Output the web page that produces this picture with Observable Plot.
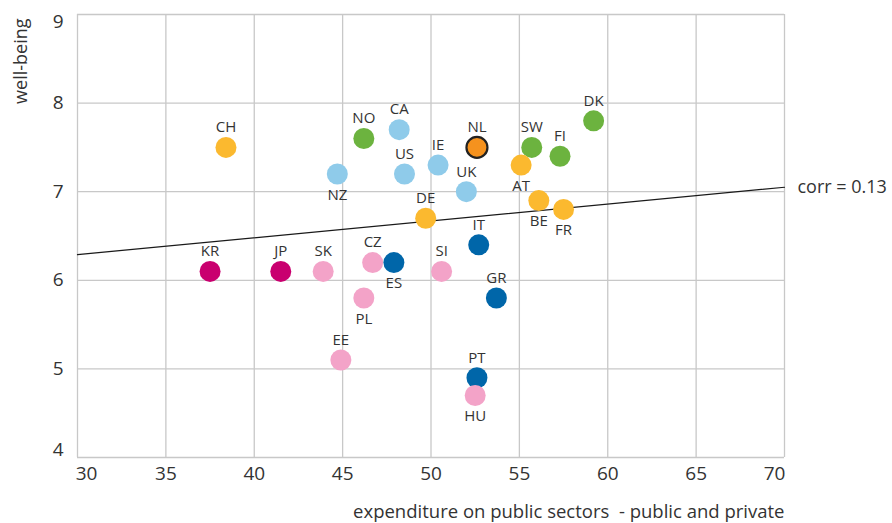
<!DOCTYPE html>
<html>
<head>
<meta charset="utf-8">
<script src="https://cdn.jsdelivr.net/npm/d3@7"></script>
<script src="https://cdn.jsdelivr.net/npm/@observablehq/plot@0.6"></script>
<style>
  html, body { margin: 0; padding: 0; background: #fff; }
</style>
</head>
<body>
<div id="chart"></div>
<script>
// Data
const countries   = ["CH","NO","CA","US","NZ","IE","NL","UK","SW","FI","DK","AT","BE","FR","DE","IT","CZ","ES","SI","SK","KR","JP","PL","GR","EE","PT","HU"];
const expenditure = [38.4,46.2,48.2,48.5,44.7,50.4,52.6,52.0,55.7,57.3,59.2,55.1,56.1,57.5,49.7,52.7,46.7,47.9,50.6,43.9,37.5,41.5,46.2,53.7,44.9,52.6,52.5];
const wellbeing   = [7.5,7.6,7.7,7.2,7.2,7.3,7.5,7.0,7.5,7.4,7.8,7.3,6.9,6.8,6.7,6.4,6.2,6.2,6.1,6.1,6.1,6.1,5.8,5.8,5.1,4.9,4.7];
const groups      = ["continental","nordic","anglo","anglo","anglo","anglo","nl","anglo","nordic","nordic","nordic","continental","continental","continental","continental","southern","eastern","southern","eastern","eastern","asian","asian","eastern","southern","eastern","southern","eastern"];
const labelsBelow = ["NZ","AT","BE","FR","ES","PL","HU"];

const groupNames  = ["continental","nordic","anglo","nl","southern","eastern","asian"];
const groupColors = ["#fbb92f","#6cb33f","#8fcbea","#f5921e","#0066a9","#f3a3c8","#c9006f"];

const xTicks = [30,35,40,45,50,55,60,65,70];
const yTicks = [4,5,6,7,8,9];

// trend line
const trendX = [30,70];
const trendY = [6.29,7.05];
const corrLabel = "corr = 0.13";

const xTitle = "expenditure on public sectors  - public and private";
const yTitle = "well-being";

const data = countries.map((c, i) => ({
  country: c, x: expenditure[i], y: wellbeing[i], group: groups[i],
  below: labelsBelow.includes(c)
}));
const trend = trendX.map((x, i) => ({x, y: trendY[i]}));

const font = "'Open Sans', 'Noto Sans', sans-serif";
const xMin = xTicks[0], xMax = xTicks[xTicks.length - 1];
const yMin = yTicks[0], yMax = yTicks[yTicks.length - 1];
const xInner = xTicks.filter(t => t !== xMin && t !== xMax);
const yInner = yTicks.filter(t => t !== yMin && t !== yMax);

const axX = {tickSize: 0, tickPadding: 9, fontSize: 19, fill: "#333", label: null, tickFormat: d => String(d)};
const axY = {tickSize: 0, tickPadding: 14, fontSize: 19, fill: "#333", label: null, tickFormat: d => String(d)};

const chart = Plot.plot({
  width: 892,
  height: 523,
  marginLeft: 77,
  marginRight: 108,
  marginTop: 14,
  marginBottom: 66,
  style: {fontFamily: font, background: "#fff", color: "#333"},
  x: {domain: [xMin, xMax]},
  y: {domain: [yMin, yMax]},
  color: {domain: groupNames, range: groupColors},
  marks: [
    Plot.gridX(xTicks, {stroke: "#c8c8c8", strokeOpacity: 1, strokeWidth: 1.3}),
    Plot.gridY(yTicks, {stroke: "#c8c8c8", strokeOpacity: 1, strokeWidth: 1.3}),
    Plot.axisX(xInner, axX),
    Plot.axisX([xMin], {...axX, dx: 9}),
    Plot.axisX([xMax], {...axX, dx: -10}),
    Plot.axisY(yInner, axY),
    Plot.axisY([yMax], {...axY, dy: 7}),
    Plot.axisY([yMin], {...axY, dy: -8}),
    Plot.line(trend, {x: "x", y: "y", stroke: "#1a1a1a", strokeWidth: 1.2}),
    Plot.dot(data, {
      x: "x", y: "y", r: 10.5, fill: "group",
      stroke: d => d.group === "nl" ? "#222" : "none",
      strokeWidth: 2.2
    }),
    Plot.text(data.filter(d => !d.below), {x: "x", y: "y", text: "country", dy: -20, fontSize: 15, fill: "#333", letterSpacing: "0.5px"}),
    Plot.text(data.filter(d => d.below), {x: "x", y: "y", text: "country", dy: 21, fontSize: 15, fill: "#333", letterSpacing: "0.5px"}),
    Plot.text([corrLabel], {x: trendX[1], y: trendY[1], text: d => d, dx: 13, textAnchor: "start", fontSize: 18, fill: "#333"}),
    Plot.text([yTitle], {frameAnchor: "top-left", rotate: -90, textAnchor: "end", lineAnchor: "middle", dx: -56, dy: 4, fontSize: 18, fill: "#333"}),
    Plot.text([xTitle], {frameAnchor: "bottom-right", textAnchor: "end", lineAnchor: "middle", dy: 55, fontSize: 18.5, fill: "#333"})
  ]
});
document.getElementById("chart").appendChild(chart);
</script>
</body>
</html>
